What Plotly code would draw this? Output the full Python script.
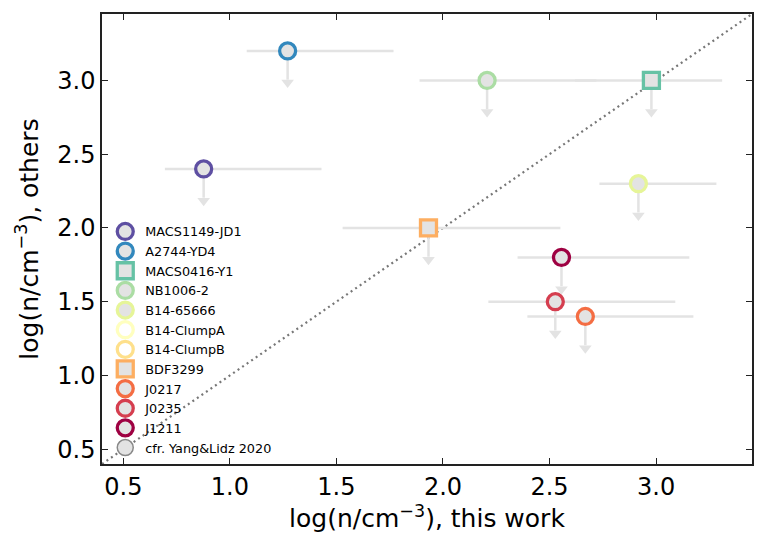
import plotly.graph_objects as go

# density estimates: this work (x) vs literature (y, upper limits)
names = ['MACS1149-JD1', 'A2744-YD4', 'MACS0416-Y1', 'NB1006-2', 'B14-65666',
         'B14-ClumpA', 'B14-ClumpB', 'BDF3299', 'J0217', 'J0235', 'J1211']
symbols = ['circle', 'circle', 'square', 'circle', 'circle',
           'circle', 'circle', 'square', 'circle', 'circle', 'circle']
x_this = [0.877, 1.271, 2.978, 2.207, 2.917, None, None, 1.932, 2.668, 2.527, 2.556]
x_lo = [0.695, 1.079, 2.62, 1.89, 2.734, None, None, 1.529, 2.396, 2.213, 2.35]
x_hi = [1.43, 1.768, 3.31, 2.72, 3.283, None, None, 2.551, 3.175, 3.09, 3.156]
y_others = [2.4, 3.2, 3.0, 3.0, 2.3, None, None, 2.0, 1.4, 1.5, 1.8]

colors = ['#5e4fa2', '#3288bd', '#66c2a5', '#abdda4', '#e6f598',
          '#ffffbf', '#fee08b', '#fdae61', '#f46d43', '#d53e4f', '#9e0142']

lims = [0.4, 3.45]
grey = '#e3e3e3'
arrow_len = 0.215

fig = go.Figure()

fig.add_trace(go.Scatter(x=lims, y=lims, mode='lines',
                         line=dict(color='#777777', width=2.2, dash='2px,3.5px'),
                         showlegend=False, hoverinfo='skip'))

# arrow heads for upper limits
head_x = [x for x, y in zip(x_this, y_others) if y is not None]
head_y = [y - arrow_len for y in y_others if y is not None]
fig.add_trace(go.Scatter(x=head_x, y=head_y, mode='markers',
                         marker=dict(symbol='triangle-down', size=11, color=grey),
                         showlegend=False, hoverinfo='skip'))

for i, n in enumerate(names):
    x, y = x_this[i], y_others[i]
    if x is None:
        fig.add_trace(go.Scatter(x=[None], y=[None], mode='markers', name=n,
                                 marker=dict(symbol=symbols[i], size=16,
                                             color='white',
                                             line=dict(color=colors[i], width=3.3))))
        continue
    fig.add_trace(go.Scatter(
        x=[x], y=[y], mode='markers', name=n,
        marker=dict(symbol=symbols[i], size=16, color='#e3e3e3',
                    line=dict(color=colors[i], width=3.3)),
        error_x=dict(type='data', symmetric=False, array=[x_hi[i] - x],
                     arrayminus=[x - x_lo[i]], color=grey, thickness=2.5, width=0),
        error_y=dict(type='data', symmetric=False, array=[0],
                     arrayminus=[arrow_len - 0.02], color=grey, thickness=2.5, width=0),
    ))

fig.add_trace(go.Scatter(x=[None], y=[None], mode='markers', name='cfr. Yang&Lidz 2020',
                         marker=dict(symbol='circle', size=16, color='#e3e3e3',
                                     line=dict(color='#888888', width=1.5))))

axis_style = dict(range=lims, showline=True, linecolor='#222222', linewidth=1.5,
                  mirror='ticks', ticks='inside', ticklen=6, tickwidth=1.3,
                  tickcolor='#222222', showgrid=False, zeroline=False,
                  tickformat='.1f', dtick=0.5, tick0=0.5,
                  tickfont=dict(size=24, color='black'))

fig.update_xaxes(title=dict(text='log(n/cm<sup>−3</sup>), this work',
                            font=dict(size=25, color='black'), standoff=4),
                 **axis_style)
fig.update_yaxes(title=dict(text='log(n/cm<sup>−3</sup>), others',
                            font=dict(size=25, color='black'), standoff=12),
                 **axis_style)

# page body adds 8px around the figure, so margins are shifted to compensate
fig.update_layout(
    template='plotly_white',
    width=764, height=550,
    margin=dict(l=94, r=20, t=4, b=94),
    font=dict(family='DejaVu Sans'),
    plot_bgcolor='white',
    legend=dict(x=0.005, y=0.003, xanchor='left', yanchor='bottom',
                bgcolor='rgba(0,0,0,0)', font=dict(size=12.8, color='black'),
                tracegroupgap=0, itemsizing='trace'),
)

fig.write_html('out.html')
